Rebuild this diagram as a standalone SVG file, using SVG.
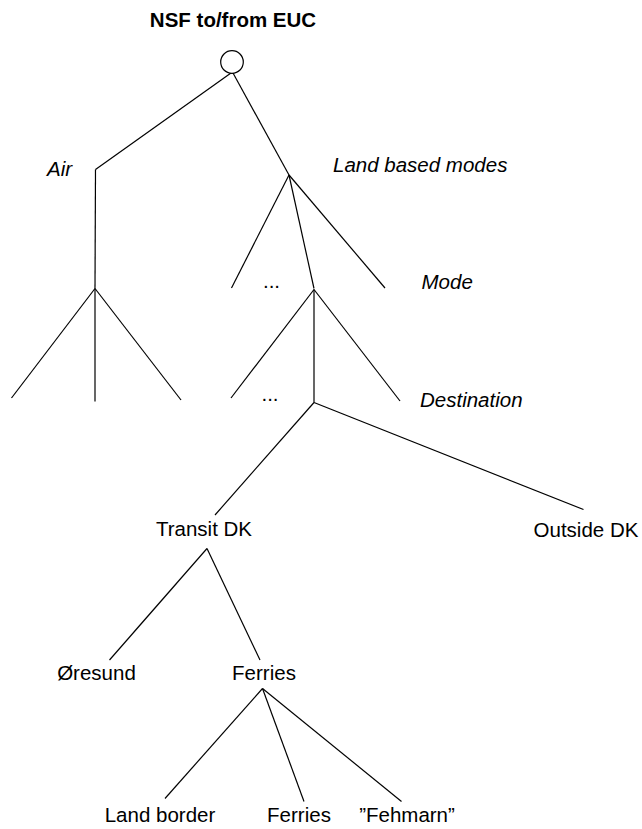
<svg xmlns="http://www.w3.org/2000/svg" width="642" height="829" viewBox="0 0 642 829">
<style>
text{font-family:"Liberation Sans",Arial,sans-serif;font-size:20.5px;fill:#000}
.b{font-weight:bold}
.i{font-style:italic}
line{stroke:#000;stroke-width:1.2;fill:none}
</style>
<rect width="642" height="829" fill="#fff"/>
<g id="connectors">
<line x1="231" y1="73" x2="95.5" y2="169.5"/>
<line x1="233" y1="73" x2="289" y2="175"/>
<line x1="95.5" y1="169.5" x2="95" y2="288.5"/>
<line x1="95" y1="288.5" x2="11.5" y2="398"/>
<line x1="95" y1="288.5" x2="95" y2="401.5"/>
<line x1="95" y1="288.5" x2="181" y2="400"/>
<line x1="289" y1="175" x2="231.5" y2="288"/>
<line x1="289" y1="175" x2="314" y2="288.5"/>
<line x1="289" y1="175" x2="385" y2="288"/>
<line x1="314" y1="289.5" x2="231" y2="398"/>
<line x1="314" y1="289.5" x2="314" y2="402.5"/>
<line x1="314" y1="289.5" x2="400" y2="401"/>
<line x1="314" y1="402.5" x2="215" y2="515"/>
<line x1="314" y1="402.5" x2="583.5" y2="509.5"/>
<line x1="207" y1="548.5" x2="109.5" y2="660"/>
<line x1="207" y1="548.5" x2="260" y2="660"/>
<line x1="262.5" y1="688.5" x2="165" y2="798.5"/>
<line x1="262.5" y1="688.5" x2="304" y2="801.5"/>
<line x1="262.5" y1="688.5" x2="401.5" y2="801.5"/>
</g>
<g id="root">
<text class="b" x="233" y="27" text-anchor="middle">NSF to/from EUC</text>
<circle cx="232" cy="62" r="11.3" fill="#fff" stroke="#000" stroke-width="1.2"/>
</g>
<g id="air"><text class="i" x="47" y="175.5">Air</text></g>
<g id="land"><text class="i" x="333" y="171.5" font-size="21.5">Land based modes</text></g>
<g id="mode"><text class="i" x="421.5" y="288.5">Mode</text></g>
<g id="dots1"><text x="271.5" y="288" text-anchor="middle">...</text></g>
<g id="destination"><text class="i" x="420" y="407" font-size="21">Destination</text></g>
<g id="dots2"><text x="270" y="401" text-anchor="middle">...</text></g>
<g id="transit"><text x="204" y="536" text-anchor="middle">Transit DK</text></g>
<g id="outside"><text x="586" y="537" text-anchor="middle">Outside DK</text></g>
<g id="oresund"><text x="96.5" y="680" text-anchor="middle">Øresund</text></g>
<g id="ferries"><text x="264" y="680" text-anchor="middle">Ferries</text></g>
<g id="landborder"><text x="160" y="822" text-anchor="middle">Land border</text></g>
<g id="ferries2"><text x="299" y="822" text-anchor="middle">Ferries</text></g>
<g id="fehmarn"><text x="407" y="822" text-anchor="middle">”Fehmarn”</text></g>
</svg>
